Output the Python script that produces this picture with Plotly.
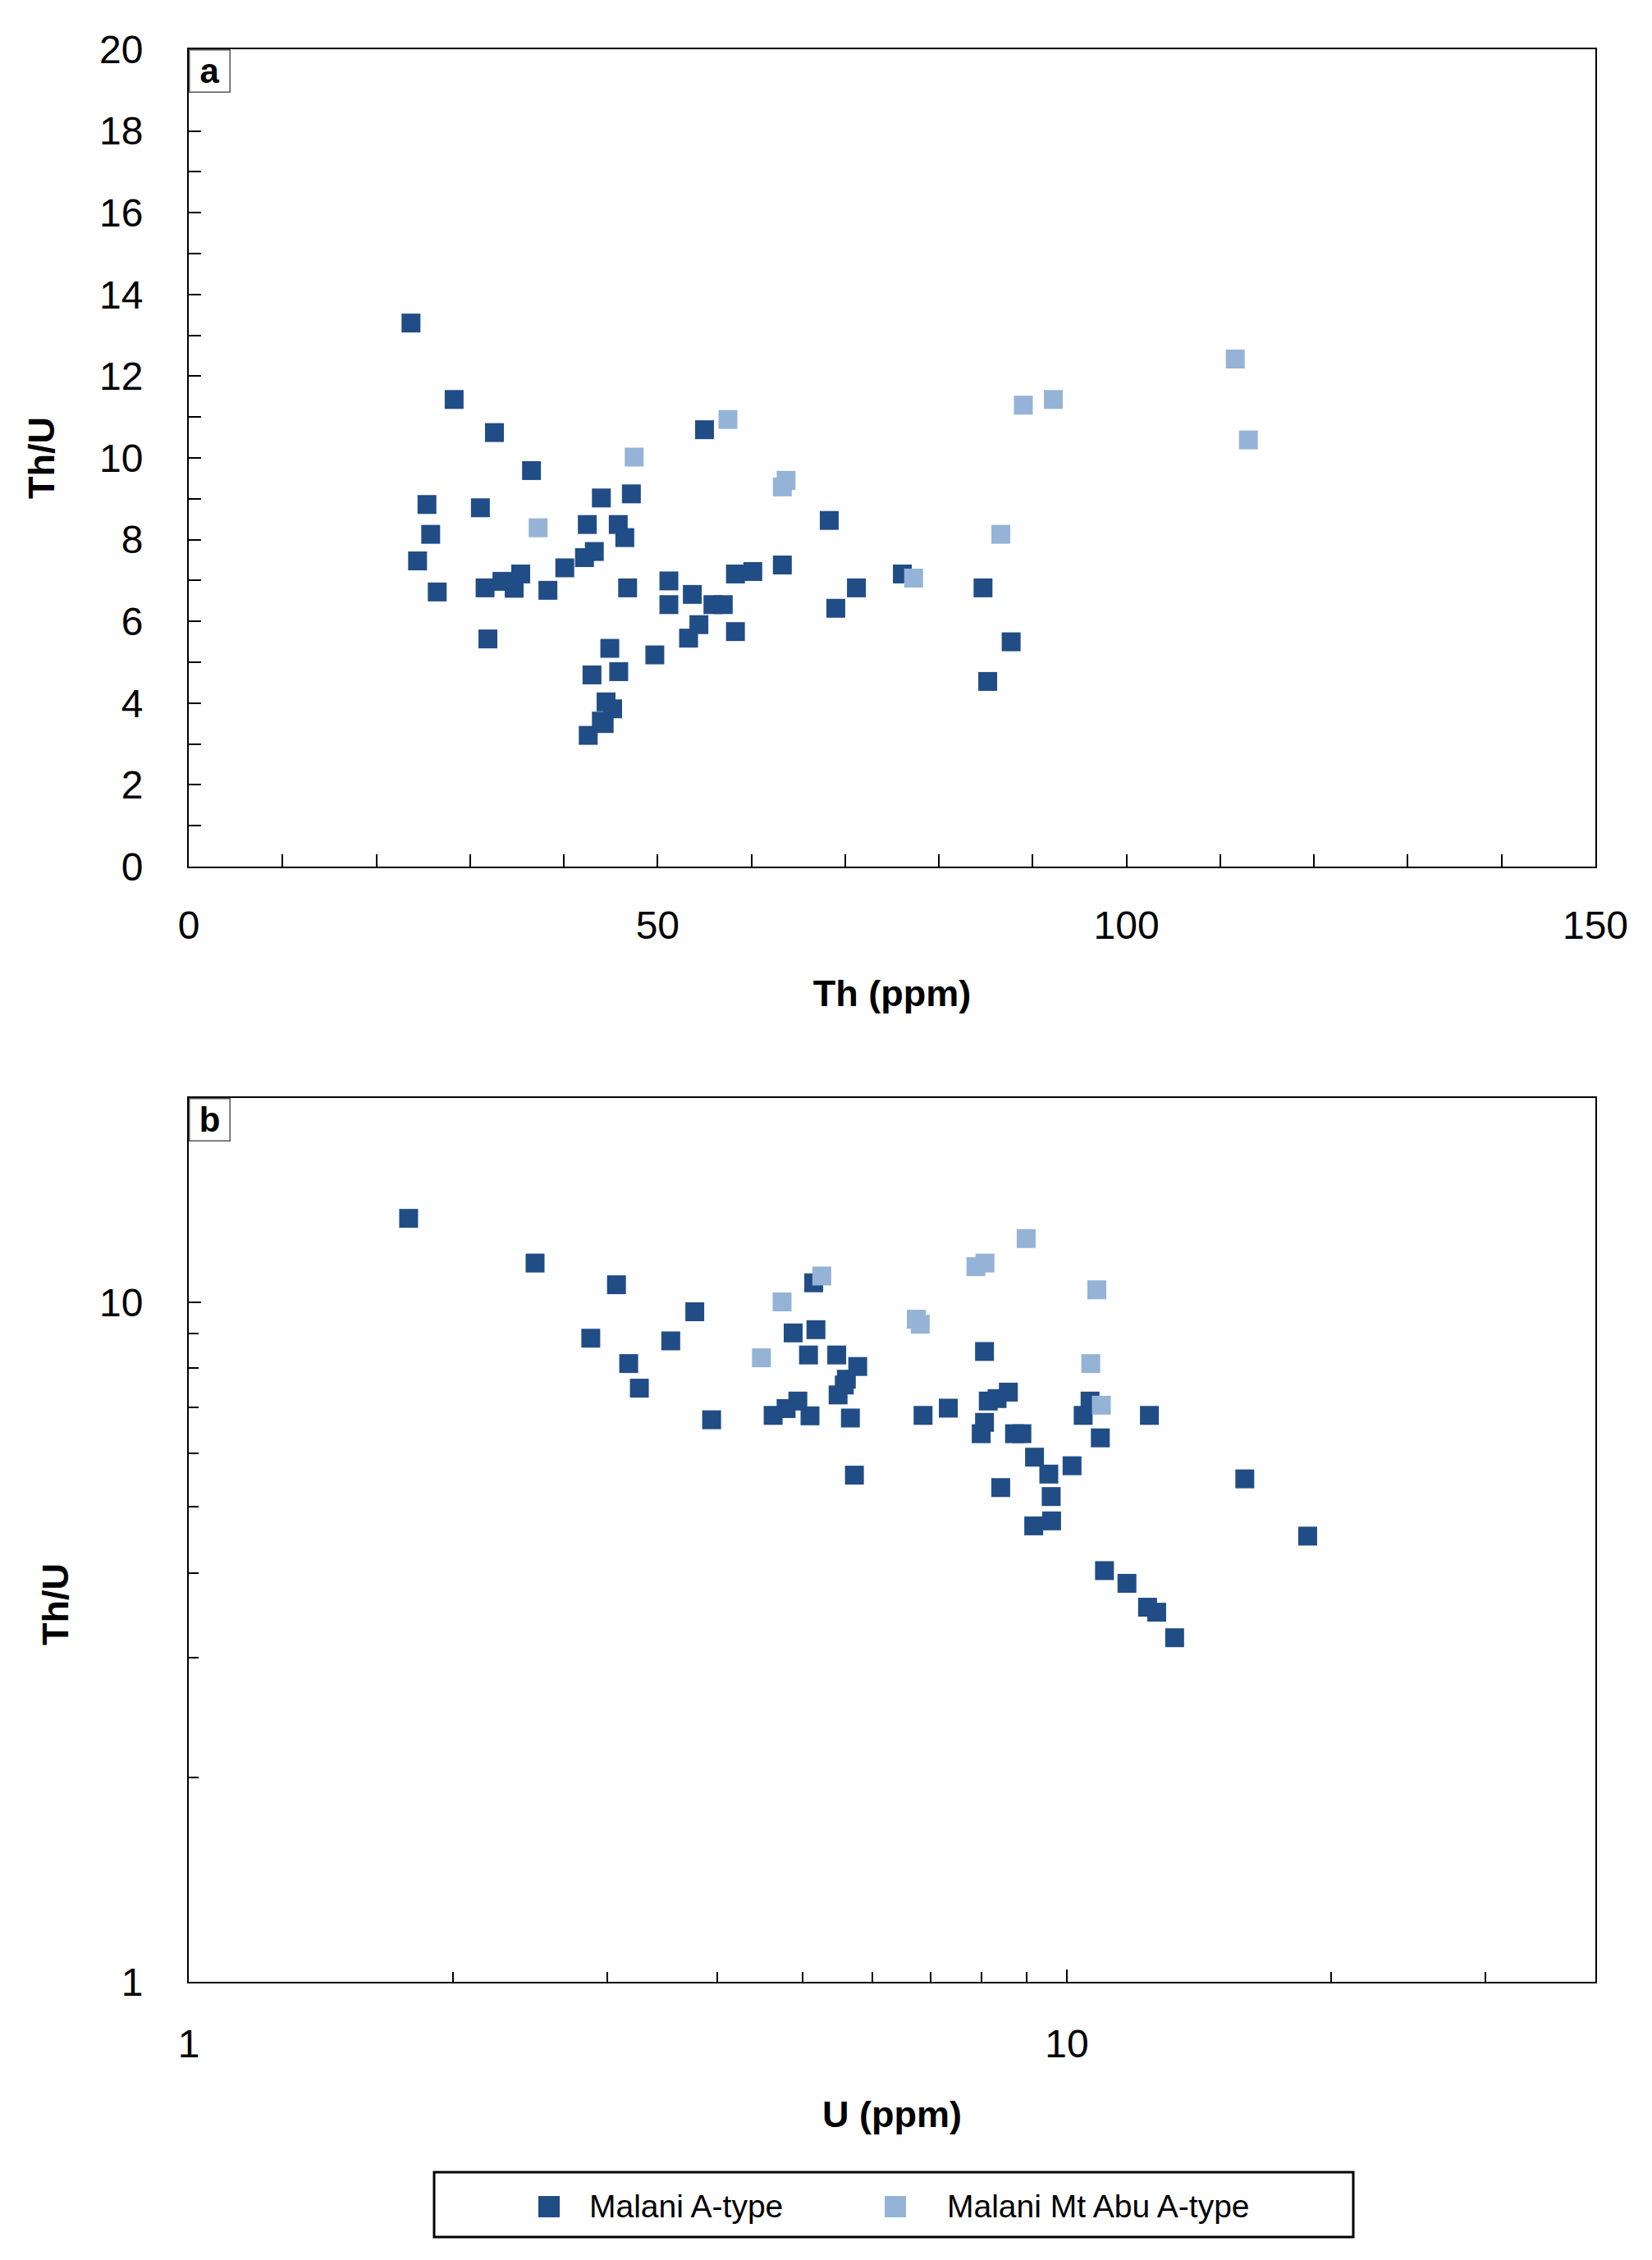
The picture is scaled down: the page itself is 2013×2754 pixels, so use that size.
import math
import plotly.graph_objects as go

# Malani A-type (dark)
th_malani = [23.7, 28.3, 32.6, 36.55, 25.4, 31.1, 25.8, 24.4, 26.5, 31.6,
             33.4, 34.7, 35.4, 38.3, 40.1, 42.2, 43.25, 42.5, 44.0, 47.2,
             45.8, 46.5, 46.8, 31.9, 44.9, 49.7, 43.0, 45.85, 44.5, 45.2,
             44.3, 42.6, 51.2, 51.2, 53.7, 55.9, 57.0, 58.3, 60.15, 63.3,
             54.4, 53.3, 58.3, 55.0, 68.3, 71.2, 69.0, 76.1, 84.7, 87.7,
             85.2, 44.0]
thu_malani = [13.3, 11.43, 10.62, 9.69, 8.86, 8.78, 8.13, 7.48, 6.72, 6.82,
              6.98, 6.81, 7.16, 6.76, 7.31, 7.56, 7.71, 8.37, 9.02, 9.12,
              8.37, 8.05, 6.82, 5.57, 5.34, 5.18, 4.69, 4.77, 4.03, 3.86,
              3.50, 3.21, 6.99, 6.41, 6.66, 6.41, 6.41, 7.16, 7.22, 7.38,
              5.92, 5.59, 5.75, 10.69, 8.47, 6.82, 6.32, 7.16, 6.82, 5.50,
              4.53, 3.56]
u_malani = [1.78, 2.48, 3.07, 3.77, 2.87, 3.54, 3.17, 3.26, 3.94, 4.63,
            4.79, 5.10, 4.94, 5.67, 5.49, 5.58, 5.61, 5.08, 4.88, 5.18,
            5.47, 5.78, 6.86, 5.73, 8.41, 9.60, 9.17, 9.61, 11.04, 11.71,
            12.66, 13.27, 7.33, 7.99, 8.06, 8.72, 8.89, 8.14, 8.33, 8.58,
            9.19, 9.54, 10.14, 5.15, 8.06, 10.44, 10.92, 10.63, 12.42, 15.95,
            18.81, 12.36]

# Malani Mt Abu A-type (light)
th_abu = [37.26, 47.5, 57.5, 63.3, 63.7, 77.3, 86.6, 89.0, 92.2, 111.6, 113.0]
thu_abu = [8.29, 10.02, 10.94, 9.29, 9.45, 7.06, 8.13, 11.29, 11.43, 12.42, 10.44]
u_abu = [4.49, 4.74, 5.26, 6.81, 6.74, 10.95, 10.65, 7.88, 8.07, 8.99, 10.82]

series_names = ["Malani A-type", "Malani Mt Abu A-type"]

DARK = "#214d86"
LIGHT = "#95b3d7"
W, H = 2013, 2754
OFF = 8  # page body margin
FONT = "Liberation Sans, Arial, sans-serif"


def px(p):
    return (p - OFF) / W


def py(p):
    return 1 - (p - OFF) / H


xdom = [px(230), px(1944)]
ya_dom = [py(1056), py(60)]
yb_dom = [py(2415), py(1338)]

fig = go.Figure()
mk = dict(symbol="square", size=23, line=dict(width=0))
fig.add_trace(go.Scatter(x=th_malani, y=thu_malani, mode="markers", name=series_names[0],
                         marker=dict(mk, color=DARK), xaxis="x", yaxis="y", showlegend=False))
fig.add_trace(go.Scatter(x=th_abu, y=thu_abu, mode="markers", name=series_names[1],
                         marker=dict(mk, color=LIGHT), xaxis="x", yaxis="y", showlegend=False))
fig.add_trace(go.Scatter(x=u_malani, y=thu_malani, mode="markers", name=series_names[0],
                         marker=dict(mk, color=DARK), xaxis="x2", yaxis="y2", showlegend=False))
fig.add_trace(go.Scatter(x=u_abu, y=thu_abu, mode="markers", name=series_names[1],
                         marker=dict(mk, color=LIGHT), xaxis="x2", yaxis="y2", showlegend=False))

common = dict(showline=True, linecolor="black", linewidth=2, mirror=True, showgrid=False,
              zeroline=False, ticks="inside", ticklen=15, tickwidth=1.5, tickcolor="black",
              automargin=False,
              tickfont=dict(family=FONT, size=48, color="black"))
title_font = dict(family=FONT, size=45, color="black", weight="bold")

fig.update_layout(
    width=W, height=H,
    margin=dict(l=0, r=0, t=0, b=0, autoexpand=False),
    paper_bgcolor="white", plot_bgcolor="white",
    xaxis=dict(common, domain=xdom, anchor="y", range=[0, 150], dtick=50,
               minor=dict(dtick=10, ticks="inside", ticklen=15, tickcolor="black"),
               ticklabelstandoff=28,
               title=dict(text="Th (ppm)", font=title_font, standoff=42)),
    yaxis=dict(common, domain=ya_dom, anchor="x", range=[0, 20], dtick=2,
               minor=dict(dtick=1, ticks="inside", ticklen=15, tickcolor="black"),
               ticklabelstandoff=44,
               title=dict(text="Th/U", font=title_font, standoff=40)),
    xaxis2=dict(common, domain=xdom, anchor="y2", type="log", range=[0, math.log10(40)],
                tickvals=[1, 10], ticktext=["1", "10"],
                minor=dict(tickmode="array", tickvals=[2, 3, 4, 5, 6, 7, 8, 9, 20, 30],
                           ticks="inside", ticklen=12, tickcolor="black"),
                ticklabelstandoff=32,
                title=dict(text="U (ppm)", font=title_font, standoff=45)),
    yaxis2=dict(common, domain=yb_dom, anchor="x2", type="log", range=[0, math.log10(20)],
                tickvals=[1, 10], ticktext=["1", "10"],
                minor=dict(tickmode="array", tickvals=[2, 3, 4, 5, 6, 7, 8, 9],
                           ticks="inside", ticklen=12, tickcolor="black"),
                ticklabelstandoff=44),
)

# panel b y title sits below the panel centre in the original
fig.add_annotation(text="Th/U", xref="paper", yref="paper", x=px(67), y=py(1955),
                   xanchor="center", yanchor="middle", textangle=-90, showarrow=False,
                   font=title_font)

# panel letters
for letter, ytop in (("a", 60), ("b", 1338)):
    fig.add_annotation(text="<b>%s</b>" % letter, xref="paper", yref="paper",
                       x=px(230), y=py(ytop), xanchor="left", yanchor="top",
                       showarrow=False, width=44, height=46, bgcolor="white",
                       bordercolor="#555555", borderwidth=1.5, borderpad=2,
                       font=dict(family=FONT, size=42, color="black"))

# legend box drawn below panel b
fig.add_shape(type="rect", xref="paper", yref="paper", x0=px(529), x1=px(1649),
              y0=py(2726), y1=py(2647), line=dict(color="black", width=3),
              fillcolor="white")
for name, color, kx, tx in ((series_names[0], DARK, 669, 716),
                            (series_names[1], LIGHT, 1091, 1152)):
    fig.add_shape(type="rect", xref="paper", yref="paper",
                  x0=px(kx - 13), x1=px(kx + 13),
                  y0=py(2702), y1=py(2676),
                  line=dict(width=0), fillcolor=color)
    fig.add_annotation(text=name, xref="paper", yref="paper", x=px(tx), y=py(2688),
                       xanchor="left", yanchor="middle", showarrow=False,
                       font=dict(family=FONT, size=39, color="black"))

fig.write_html("out.html")
